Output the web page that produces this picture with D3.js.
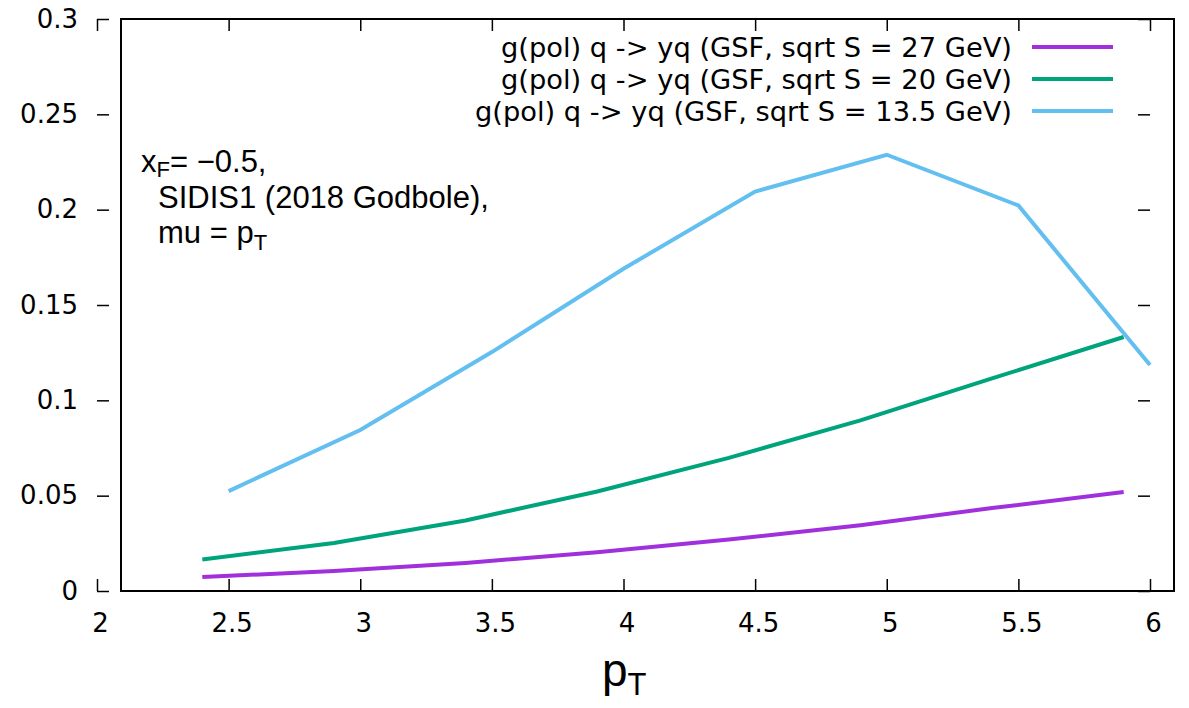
<!DOCTYPE html>
<html>
<head>
<meta charset="utf-8">
<script src="https://cdn.jsdelivr.net/npm/d3@7"></script>
<style>
  body { margin: 0; background: #fff; }
  .tick text { font-family: "DejaVu Sans", sans-serif; font-size: 26px; fill: #000; }
  .tick line { stroke: #000; stroke-width: 1.5; }
  .legend text { font-family: "DejaVu Sans", sans-serif; font-size: 27.3px; }
  .note { font-family: "Liberation Sans", Arial, sans-serif; font-size: 31px; }
</style>
</head>
<body>
<script>
// Data
const xTicks = [2, 2.5, 3, 3.5, 4, 4.5, 5, 5.5, 6];
const yTicks = [0, 0.05, 0.1, 0.15, 0.2, 0.25, 0.3];

const pt27 = [2.4, 2.9, 3.4, 3.9, 4.4, 4.9, 5.4, 5.9];
const val27 = [0.0073, 0.0105, 0.0147, 0.0203, 0.027, 0.0345, 0.0435, 0.0519];

const pt20 = [2.4, 2.9, 3.4, 3.9, 4.4, 4.9, 5.4, 5.9];
const val20 = [0.0165, 0.0252, 0.037, 0.0522, 0.0698, 0.0895, 0.1115, 0.1332];

const pt135 = [2.5, 3.0, 3.5, 4.0, 4.5, 5.0, 5.5, 6.0];
const val135 = [0.0524, 0.0844, 0.1253, 0.169, 0.2095, 0.2288, 0.2022, 0.1185];

const seriesNames = [
  "g(pol) q -> yq (GSF, sqrt S = 27 GeV)",
  "g(pol) q -> yq (GSF, sqrt S = 20 GeV)",
  "g(pol) q -> yq (GSF, sqrt S = 13.5 GeV)"
];
const seriesColors = ["#a030dc", "#00a47c", "#62bff0"];

const W = 1189, H = 708;
const x = d3.scaleLinear().domain([2, 6]).range([97, 1150]);
const y = d3.scaleLinear().domain([0, 0.3]).range([591, 19]);
const frameShift = 24; // the border is drawn offset from the tick frame
const tickLen = 12;

const svg = d3.select("body").append("svg")
  .attr("width", W)
  .attr("height", H);

// Border
svg.append("rect")
  .attr("x", x(2) + frameShift)
  .attr("y", y(0.3))
  .attr("width", x(6) - x(2))
  .attr("height", y(0) - y(0.3))
  .attr("fill", "none")
  .attr("stroke", "#000")
  .attr("stroke-width", 2);

// Left axis with labels
svg.append("g")
  .attr("transform", `translate(${x(2)},0)`)
  .call(d3.axisLeft(y).tickValues(yTicks).tickSizeInner(-tickLen).tickSizeOuter(0)
    .tickPadding(19).tickFormat(d3.format("~g")))
  .call(g => g.select(".domain").remove());

// Right ticks
svg.append("g")
  .attr("transform", `translate(${x(6)},0)`)
  .call(d3.axisRight(y).tickValues(yTicks).tickSizeInner(-tickLen).tickSizeOuter(0).tickFormat(""))
  .call(g => g.select(".domain").remove());

// Bottom axis with labels
svg.append("g")
  .attr("transform", `translate(0,${y(0)})`)
  .call(d3.axisBottom(x).tickValues(xTicks).tickSizeInner(-tickLen).tickSizeOuter(0)
    .tickPadding(23).tickFormat(d3.format("~g")))
  .call(g => g.select(".domain").remove())
  .call(g => g.selectAll("text").attr("dx", 3));

// Top ticks
svg.append("g")
  .attr("transform", `translate(0,${y(0.3)})`)
  .call(d3.axisTop(x).tickValues(xTicks).tickSizeInner(-tickLen).tickSizeOuter(0).tickFormat(""))
  .call(g => g.select(".domain").remove());

// Lines
const line = d3.line().x(d => x(d[0])).y(d => y(d[1]));
const series = [
  d3.zip(pt27, val27),
  d3.zip(pt20, val20),
  d3.zip(pt135, val135)
];

svg.append("g")
  .selectAll("path")
  .data(series)
  .join("path")
  .attr("d", line)
  .attr("fill", "none")
  .attr("stroke", (d, i) => seriesColors[i])
  .attr("stroke-width", 4)
  .attr("stroke-linejoin", "miter");

// Legend
const legend = svg.append("g").attr("class", "legend");
const legRows = legend.selectAll("g")
  .data(seriesNames)
  .join("g")
  .attr("transform", (d, i) => `translate(0,${47 + i * 32})`);

legRows.append("text")
  .attr("x", 1012)
  .attr("dy", "0.36em")
  .attr("text-anchor", "end")
  .text(d => d);

legRows.append("line")
  .attr("x1", 1032)
  .attr("x2", 1113)
  .attr("stroke", (d, i) => seriesColors[i])
  .attr("stroke-width", 4);

// Annotation
const note = svg.append("g").attr("class", "note");
const l1 = note.append("text").attr("x", 141).attr("y", 172);
l1.append("tspan").text("x");
l1.append("tspan").attr("font-size", "22px").attr("dy", 5).text("F");
l1.append("tspan").attr("dy", -5).text("= \u22120.5,");

note.append("text").attr("x", 158).attr("y", 208).text("SIDIS1 (2018 Godbole),");

const l3 = note.append("text").attr("x", 158).attr("y", 243);
l3.append("tspan").text("mu = p");
l3.append("tspan").attr("font-size", "22px").attr("dy", 7).text("T");

// X axis title
const xt = svg.append("text")
  .attr("class", "note")
  .attr("x", 602)
  .attr("y", 686)
  .style("font-size", "46px");
xt.append("tspan").text("p");
xt.append("tspan").style("font-size", "31px").attr("dy", 9).text("T");
</script>
</body>
</html>
